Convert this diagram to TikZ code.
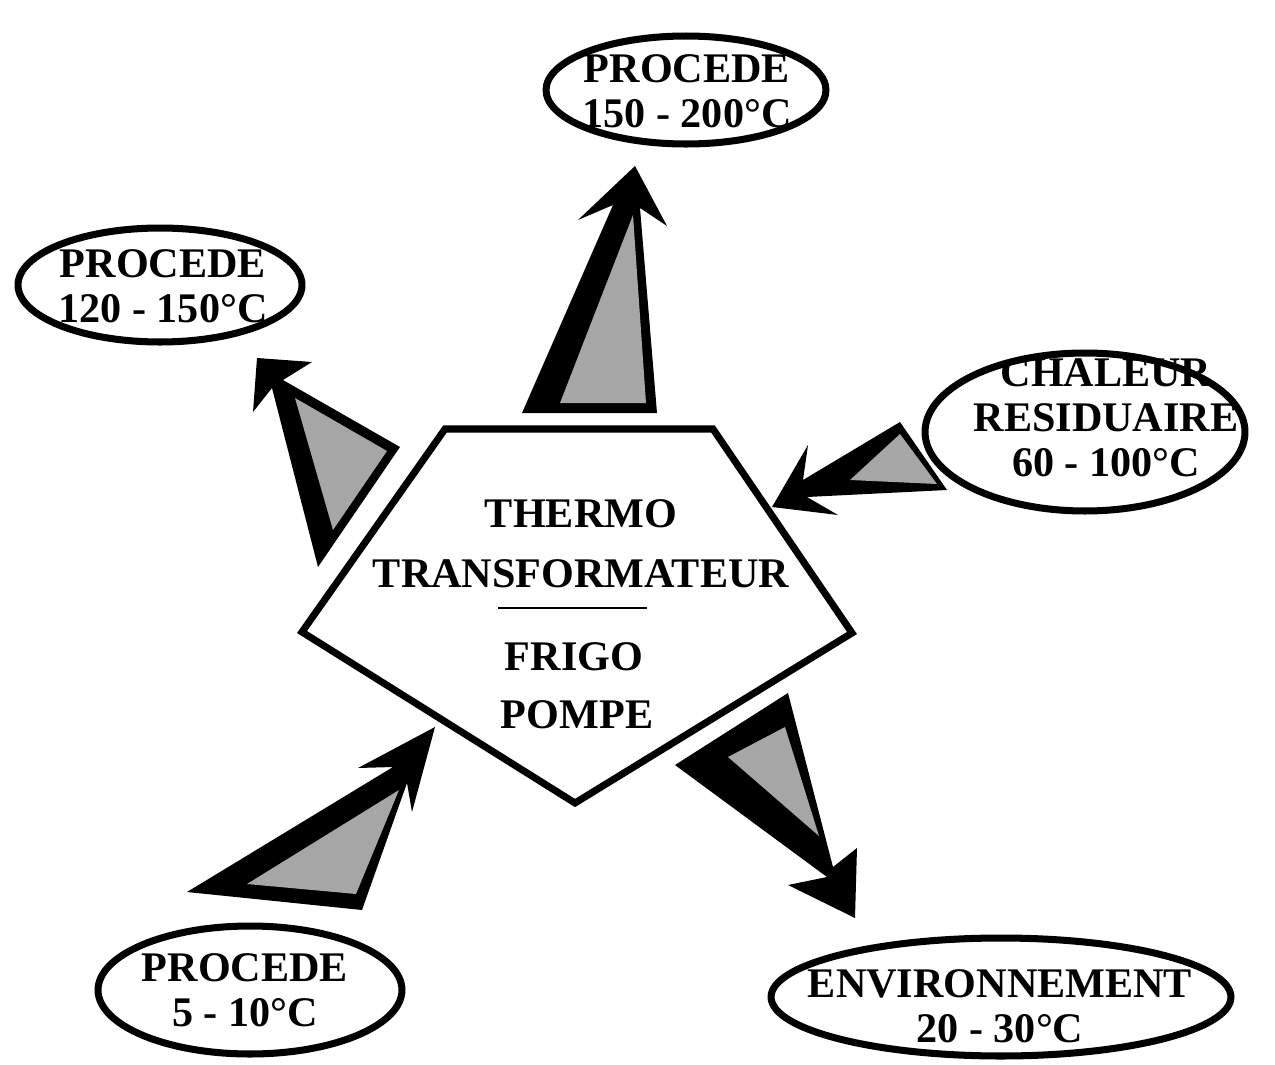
\documentclass[tikz,border=0pt]{standalone}
\usepackage{fontspec}
\setmainfont{Liberation Serif}
\usetikzlibrary{shapes.geometric}
\begin{document}
\begin{tikzpicture}[x=0.02cm,y=-0.02cm,
  ell/.style={draw,ellipse,line width=4pt,inner sep=0pt},
  txt/.style={align=center,inner sep=0pt,font=\fontsize{24}{25.5}\selectfont\bfseries},
  lbl/.style={inner sep=0pt,anchor=base,font=\fontsize{24}{24}\selectfont\bfseries},
  body/.style={fill=black},
  shade/.style={fill=black!35}]
\useasboundingbox (0,0) rectangle (1275,1065);
% central pentagon
\coordinate (p1) at (445,429);
\coordinate (p2) at (713,429);
\coordinate (p3) at (852,633);
\coordinate (p4) at (575,803);
\coordinate (p5) at (302,632);
\draw[line width=4pt,line join=miter] (p1) -- (p2) -- (p3) -- (p4) -- (p5) -- cycle;
\node[lbl] (t1) at (581,527) {THERMO};
\node[lbl] (t2) at (581,587) {TRANSFORMATEUR};
\node[lbl] (t3) at (574,670) {FRIGO};
\node[lbl] (t4) at (577,728) {POMPE};
\coordinate (d1) at (498,608);
\coordinate (d2) at (647,608);
\draw[line width=1.6pt] (d1) -- (d2);
% ellipses
\node[ell,minimum width=5.6cm,minimum height=2.16cm] (eT) at (686,90) {};
\node[txt] (xT) at (687,91) {PROCEDE\\150 - 200°C};
\node[ell,minimum width=5.68cm,minimum height=2.28cm] (eL) at (160,285) {};
\node[txt] (xL) at (163,286) {PROCEDE\\120 - 150°C};
\node[ell,minimum width=6.4cm,minimum height=3.16cm] (eR) at (1085,432) {};
\node[txt] (xR) at (1106,418) {CHALEUR\\RESIDUAIRE\\60 - 100°C};
\node[ell,minimum width=6.08cm,minimum height=2.56cm] (eBL) at (250,990) {};
\node[txt] (xBL) at (245,990) {PROCEDE\\5 - 10°C};
\node[ell,minimum width=9.2cm,minimum height=2.36cm] (eBR) at (1001,997) {};
\node[txt] (xBR) at (1000,1006) {ENVIRONNEMENT\\20 - 30°C};
% arrows
\fill[body] (522,413) -- (613,205) -- (578,220) -- (635,166) -- (667,226) -- (640,208) -- (657,413) -- cycle;
\fill[shade] (560,403) -- (646,403) -- (633,215) -- cycle;
\fill[body] (318,567) -- (272,388) -- (253,412) -- (257,358) -- (312,362) -- (283,380) -- (400,447) -- cycle;
\fill[shade] (295,398) -- (387,451) -- (333,530) -- cycle;
\fill[body] (772,507) -- (808,445) -- (803,480) -- (900,422) -- (947,490) -- (807,497) -- (838,515) -- cycle;
\fill[shade] (850,480) -- (900,434) -- (937,484) -- cycle;
\fill[body] (435,727) -- (412,812) -- (407,783) -- (362,910) -- (187,892) -- (393,767) -- (358,768) -- cycle;
\fill[shade] (247,884) -- (356,894) -- (399,790) -- cycle;
\fill[body] (675,765) -- (788,693) -- (833,867) -- (857,848) -- (855,918) -- (788,885) -- (827,877) -- cycle;
\fill[shade] (728,757) -- (785,727) -- (819,836) -- cycle;
\end{tikzpicture}
\end{document}
